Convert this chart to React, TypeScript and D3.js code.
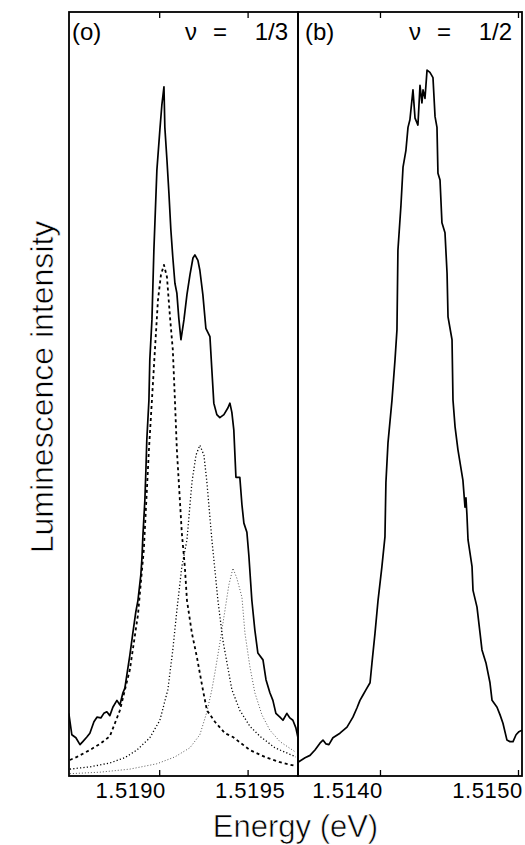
import { useEffect, useRef } from "react"
import * as d3 from "d3"

type Pt = [number, number] // [energy (eV), intensity (a.u.)]

// (a) nu = 1/3 : measured spectrum
const spectrumThird: Pt[] = [
  [1.518489, 8.2], [1.518506, 5.4], [1.518529, 5.0], [1.518552, 4.1], [1.518568, 4.5],
  [1.518591, 5.1], [1.518608, 5.6], [1.518631, 7.1], [1.518648, 7.7], [1.51867, 7.6],
  [1.518687, 8.2], [1.518704, 8.4], [1.518721, 7.9], [1.518738, 9.0], [1.518761, 9.9],
  [1.518778, 9.3], [1.518795, 10.9], [1.518806, 11.5], [1.518817, 13.2], [1.518834, 15.8],
  [1.518851, 18.7], [1.518868, 21.5], [1.51888, 23.0], [1.518896, 26.3], [1.518902, 28.3],
  [1.518908, 31.5], [1.518919, 36.1], [1.518925, 40.1], [1.51893, 44.0], [1.518942, 49.2],
  [1.518947, 54.5], [1.518959, 59.7], [1.51897, 68.8], [1.518987, 79.3], [1.519004, 84.6],
  [1.519015, 87.8], [1.519027, 90.2], [1.519032, 84.9], [1.519044, 80.6], [1.519055, 76.3],
  [1.519066, 71.5], [1.519077, 67.9], [1.519089, 64.5], [1.5191, 63.2], [1.519111, 59.9],
  [1.519123, 57.1], [1.51914, 59.7], [1.519157, 63.0], [1.519174, 65.6], [1.519191, 67.8],
  [1.519202, 68.2], [1.519219, 67.5], [1.51923, 66.2], [1.519247, 63.0], [1.519264, 58.6],
  [1.519287, 57.5], [1.519298, 53.1], [1.519309, 48.8], [1.519326, 47.3], [1.519343, 46.9],
  [1.519366, 47.3], [1.519389, 48.2], [1.5194, 48.8], [1.519411, 47.6], [1.519422, 45.3],
  [1.519434, 39.1], [1.519456, 39.1], [1.519468, 35.5], [1.519479, 33.1], [1.519496, 31.9],
  [1.519507, 28.9], [1.519524, 23.0], [1.519541, 19.1], [1.519558, 16.1], [1.519587, 15.2],
  [1.519604, 12.6], [1.519626, 10.9], [1.519643, 9.9], [1.51966, 8.2], [1.519683, 7.7],
  [1.5197, 7.3], [1.519722, 8.2], [1.519739, 7.6], [1.519756, 7.3], [1.519773, 6.3],
  [1.519785, 5.0],
]

// (a) fitted components
const fitPeak1: Pt[] = [
  [1.518495, 2.1], [1.518535, 2.5], [1.518608, 3.4], [1.518665, 4.2], [1.518721, 5.2],
  [1.518778, 8.6], [1.518834, 13.9], [1.51888, 21.1], [1.518913, 29.6], [1.518942, 42.7],
  [1.518959, 49.2], [1.518976, 55.8], [1.518993, 62.3], [1.51901, 65.6], [1.519027, 66.9],
  [1.519044, 65.3], [1.519061, 60.1], [1.519077, 55.8], [1.519089, 49.2], [1.5191, 42.7],
  [1.519117, 36.1], [1.519128, 31.8], [1.519145, 27.4], [1.519157, 23.0], [1.519185, 18.7],
  [1.519213, 15.6], [1.519247, 11.3], [1.51927, 8.6], [1.519315, 7.1], [1.519372, 5.6],
  [1.519417, 5.1], [1.519513, 3.4], [1.519598, 2.5], [1.519683, 1.8], [1.519773, 1.3],
]

const fitPeak2: Pt[] = [
  [1.518495, 0.9], [1.518608, 1.2], [1.518721, 1.7], [1.518806, 2.4], [1.518874, 3.4],
  [1.518947, 5.0], [1.519004, 7.3], [1.519049, 11.3], [1.519077, 16.5], [1.5191, 21.7],
  [1.519128, 27.4], [1.519157, 30.9], [1.519185, 38.4], [1.519208, 42.0], [1.51923, 43.3],
  [1.519253, 42.0], [1.51927, 38.4], [1.519298, 30.9], [1.519315, 27.0], [1.519332, 23.0],
  [1.51936, 17.8], [1.519389, 14.1], [1.519411, 11.3], [1.519456, 8.6], [1.519513, 6.5],
  [1.51957, 5.2], [1.519654, 3.7], [1.519773, 2.5],
]

const fitPeak3: Pt[] = [
  [1.518495, 0.3], [1.518665, 0.5], [1.518834, 0.9], [1.518987, 1.6], [1.519089, 2.5],
  [1.519174, 3.7], [1.51923, 5.4], [1.51927, 8.4], [1.519298, 11.3], [1.519315, 13.5],
  [1.519343, 17.4], [1.519372, 21.7], [1.519394, 25.0], [1.519417, 27.2], [1.519439, 25.9],
  [1.519468, 23.4], [1.519485, 18.7], [1.519513, 14.3], [1.519541, 10.9], [1.519581, 8.0],
  [1.519626, 6.0], [1.519683, 4.5], [1.519773, 3.1],
]

// (b) nu = 1/2 : measured spectrum
const spectrumHalf: Pt[] = [
  [1.513406, 1.8], [1.513457, 2.4], [1.513493, 2.7], [1.513529, 3.4], [1.513565, 4.3],
  [1.513587, 4.7], [1.513609, 4.2], [1.51363, 4.1], [1.513659, 5.0], [1.51371, 5.6],
  [1.513761, 6.4], [1.513804, 7.7], [1.513833, 8.9], [1.513855, 9.9], [1.513877, 10.6],
  [1.513899, 11.3], [1.513928, 12.2], [1.513942, 14.8], [1.513964, 18.7], [1.513986, 23.0],
  [1.514014, 27.4], [1.514036, 31.3], [1.514043, 38.4], [1.514058, 43.6], [1.514087, 49.2],
  [1.514109, 54.5], [1.514123, 58.4], [1.51413, 68.8], [1.514152, 74.7], [1.514167, 79.7],
  [1.514188, 81.9], [1.514203, 84.9], [1.514217, 85.9], [1.514239, 89.8], [1.514254, 86.1],
  [1.514275, 85.2], [1.51429, 90.4], [1.514304, 88.1], [1.514312, 89.8], [1.514326, 88.7],
  [1.514341, 92.4], [1.514362, 92.1], [1.514384, 91.4], [1.514399, 86.3], [1.514413, 84.9],
  [1.51442, 78.9], [1.514435, 78.0], [1.514449, 72.4], [1.514471, 71.1], [1.514486, 65.8],
  [1.514493, 60.1], [1.514522, 57.1], [1.514529, 49.2], [1.514544, 45.7], [1.514565, 42.7],
  [1.514601, 38.7], [1.514616, 35.2], [1.514623, 36.4], [1.51463, 34.2], [1.514638, 30.9],
  [1.514667, 27.4], [1.514674, 24.3], [1.514703, 22.1], [1.514725, 18.7], [1.514739, 16.5],
  [1.514768, 14.8], [1.514797, 12.2], [1.514812, 9.9], [1.514848, 9.0], [1.51487, 8.0],
  [1.514891, 6.9], [1.51492, 4.7], [1.514942, 4.5], [1.514964, 4.5], [1.514986, 5.4],
  [1.515007, 5.8], [1.515029, 6.0],
]

const domainThird: [number, number] = [1.51849, 1.519785]
const domainHalf: [number, number] = [1.513406, 1.515029]
const ticksThird = [1.519, 1.5195]
const ticksHalf = [1.514, 1.515]
const panelTags = ["(o)", "(b)"]
const fillings = ["1/3", "1/2"]

const FONT = "'Liberation Sans', Arial, sans-serif"

export default function App() {
  const svgRef = useRef<SVGSVGElement | null>(null)

  useEffect(() => {
    const width = 525
    const height = 845
    const top = 12
    const bottom = 776
    const left = 69
    const mid = 298
    const right = 522

    const svg = d3.select(svgRef.current)
    svg.selectAll("*").remove()
    svg.attr("width", width).attr("height", height)

    const y = d3.scaleLinear().domain([0, 100]).range([bottom, top])

    const drawPanel = (
      x0: number,
      x1: number,
      domain: [number, number],
      ticks: number[],
      labelShift: number[],
      curves: { data: Pt[]; width: number; dash: string; color: string }[],
      tag: string,
      tagX: number,
      filling: string,
      id: string
    ) => {
      const x = d3.scaleLinear().domain(domain).range([x0, x1])
      const g = svg.append("g")

      g.append("clipPath")
        .attr("id", id)
        .append("rect")
        .attr("x", x0)
        .attr("y", top)
        .attr("width", x1 - x0)
        .attr("height", bottom - top)

      const line = d3
        .line<Pt>()
        .x((d) => x(d[0]))
        .y((d) => y(d[1]))

      const plot = g.append("g").attr("clip-path", `url(#${id})`)
      curves.forEach((c) => {
        plot
          .append("path")
          .attr("d", line(c.data))
          .attr("fill", "none")
          .attr("stroke", c.color)
          .attr("stroke-width", c.width)
          .attr("stroke-dasharray", c.dash)
          .attr("stroke-linejoin", "round")
      })

      // ticks top and bottom, pointing inward
      const bottomAxis = g
        .append("g")
        .attr("transform", `translate(0,${bottom})`)
        .call(
          d3
            .axisBottom(x)
            .tickValues(ticks)
            .tickSizeInner(-6)
            .tickSizeOuter(0)
            .tickFormat(d3.format(".4f"))
        )
      bottomAxis.select(".domain").remove()
      bottomAxis.selectAll(".tick line").attr("stroke", "#000").attr("stroke-width", 1.3)
      bottomAxis
        .selectAll<SVGTextElement, number>(".tick text")
        .attr("y", 22)
        .attr("dy", 0)
        .attr("dx", (_, i) => labelShift[i])
        .attr("fill", "#000")
        .style("font-family", FONT)
        .style("font-size", "22px")
        .style("letter-spacing", "0.5px")

      const topAxis = g
        .append("g")
        .attr("transform", `translate(0,${top})`)
        .call(d3.axisTop(x).tickValues(ticks).tickSizeInner(-6).tickSizeOuter(0).tickFormat(() => ""))
      topAxis.select(".domain").remove()
      topAxis.selectAll(".tick line").attr("stroke", "#000").attr("stroke-width", 1.3)

      g.append("rect")
        .attr("x", x0)
        .attr("y", top)
        .attr("width", x1 - x0)
        .attr("height", bottom - top)
        .attr("fill", "none")
        .attr("stroke", "#000")
        .attr("stroke-width", 1.8)

      const t = g.append("g").style("font-family", FONT).style("font-size", "24px").attr("fill", "#000")
      t.append("text").attr("x", tagX).attr("y", 40).text(tag)
      t.append("text").attr("x", x1 - 113).attr("y", 40).text("ν")
      t.append("text").attr("x", x1 - 85).attr("y", 40).text("=")
      t.append("text").attr("x", x1 - 10).attr("y", 40).attr("text-anchor", "end").text(filling)
    }

    drawPanel(
      left,
      mid,
      domainThird,
      ticksThird,
      [-29, 2],
      [
        { data: fitPeak3, width: 0.9, dash: "1,2", color: "#444" },
        { data: fitPeak2, width: 1.3, dash: "1.2,2.2", color: "#000" },
        { data: fitPeak1, width: 1.8, dash: "3,3", color: "#000" },
        { data: spectrumThird, width: 1.7, dash: "none", color: "#000" },
      ],
      panelTags[0],
      left + 3,
      fillings[0],
      "clip-third"
    )

    drawPanel(
      mid,
      right,
      domainHalf,
      ticksHalf,
      [-33, -31],
      [{ data: spectrumHalf, width: 1.7, dash: "none", color: "#000" }],
      panelTags[1],
      mid + 7,
      fillings[1],
      "clip-half"
    )

    svg
      .append("text")
      .attr("x", (left + right) / 2)
      .attr("y", 837)
      .attr("text-anchor", "middle")
      .style("font-family", FONT)
      .style("font-size", "31px")
      .attr("fill", "#000")
      .attr("stroke", "#fff")
      .attr("stroke-width", 0.6)
      .text("Energy (eV)")

    svg
      .append("text")
      .attr("transform", `translate(53,${(top + bottom) / 2 - 7}) rotate(-90)`)
      .attr("text-anchor", "middle")
      .style("font-family", FONT)
      .style("font-size", "32px")
      .attr("fill", "#000")
      .attr("stroke", "#fff")
      .attr("stroke-width", 0.6)
      .text("Luminescence intensity")

    return () => {
      svg.selectAll("*").remove()
    }
  }, [])

  return (
    <div style={{ position: "absolute", left: 0, top: 0 }}>
      <svg ref={svgRef} style={{ display: "block", background: "#fff" }} />
    </div>
  )
}
